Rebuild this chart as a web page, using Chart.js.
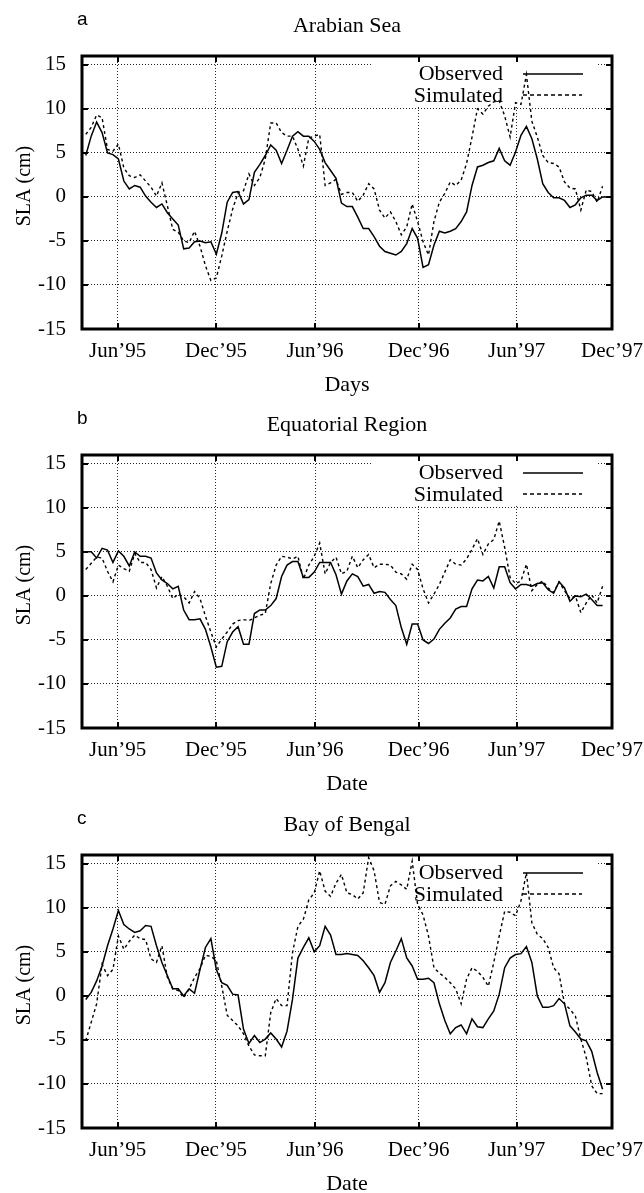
<!DOCTYPE html>
<html>
<head>
<meta charset="utf-8">
<script src="https://cdn.jsdelivr.net/npm/chart.js@4.4.1/dist/chart.umd.min.js"></script>
<style>
  html, body { margin: 0; padding: 0; background: #fff; overflow: hidden; }
  #wrap { position: relative; width: 644px; height: 1193px; }
  canvas { position: absolute; left: 0; }
</style>
</head>
<body>
<div id="wrap">
  <canvas id="panel-a" width="644" height="400" style="top:0px"></canvas>
  <canvas id="panel-b" width="644" height="400" style="top:399px"></canvas>
  <canvas id="panel-c" width="644" height="394" style="top:799px"></canvas>
</div>
<script>
// SLA (cm), one value per altimeter sample (about 10 days apart, starting late Mar 1995)
const arabianObserved = [4.7, 6.9, 8.5, 7.3, 5.0, 4.8, 4.3, 1.8, 0.9, 1.3,
  1.1, 0.1, -0.6, -1.2, -0.8, -1.8, -2.5, -3.2, -5.9, -5.8,
  -5.1, -5.0, -5.2, -5.1, -6.5, -4.1, -0.6, 0.5, 0.6, -0.8,
  -0.3, 2.8, 3.7, 4.7, 5.9, 5.3, 3.8, 5.3, 6.9, 7.4,
  6.9, 6.9, 6.3, 5.4, 3.9, 3.0, 2.1, -0.7, -1.1, -1.1,
  -2.3, -3.6, -3.6, -4.5, -5.6, -6.2, -6.4, -6.6, -6.2, -5.3,
  -3.6, -4.7, -8.0, -7.7, -5.5, -3.9, -4.1, -3.9, -3.6, -2.8,
  -1.7, 1.3, 3.4, 3.6, 3.9, 4.1, 5.5, 4.1, 3.6, 5.1,
  7.0, 8.0, 6.6, 4.3, 1.5, 0.5, -0.1, -0.1, -0.4, -1.2,
  -0.9, -0.1, 0.2, 0.2, -0.4, 0.0, 0.0];
const arabianSimulated = [7.1, 7.9, 9.3, 9.0, 5.4, 5.2, 6.0, 3.3, 2.4, 2.2,
  2.5, 1.8, 1.1, 0.1, 1.6, -1.0, -3.7, -4.0, -5.0, -5.2,
  -3.9, -5.6, -7.8, -9.5, -9.2, -6.7, -3.9, -1.4, 0.5, 0.7,
  2.6, 1.3, 2.2, 4.3, 8.4, 8.4, 7.3, 6.9, 6.9, 5.4,
  3.5, 6.7, 6.9, 7.1, 1.3, 1.6, 2.0, 0.3, 0.5, 0.5,
  -0.5, 0.2, 1.5, 0.9, -1.5, -2.4, -1.7, -2.8, -4.3, -3.4,
  -0.8, -2.8, -5.1, -6.6, -2.8, -0.6, 0.4, 1.7, 1.3, 1.9,
  3.8, 6.8, 10.0, 9.4, 10.3, 10.8, 10.9, 9.2, 6.8, 10.7,
  10.5, 13.9, 8.6, 6.8, 4.7, 3.9, 3.8, 3.4, 1.7, 1.0,
  0.9, -1.5, 0.8, 0.6, -0.6, 1.2, null];

const equatorialObserved = [5.0, 5.0, 4.3, 5.4, 5.2, 3.8, 5.1, 4.5, 3.4, 5.0,
  4.5, 4.5, 4.3, 2.6, 1.8, 1.4, 0.8, 1.1, -1.6, -2.7,
  -2.7, -2.6, -3.8, -5.8, -8.1, -8.0, -5.2, -4.1, -3.5, -5.5,
  -5.5, -2.0, -1.6, -1.6, -1.1, -0.3, 2.2, 3.5, 3.9, 3.9,
  2.1, 2.1, 2.7, 3.8, 3.8, 3.8, 2.4, 0.2, 1.7, 2.5,
  2.2, 1.1, 1.3, 0.3, 0.5, 0.4, -0.4, -1.1, -3.6, -5.5,
  -3.2, -3.2, -5.0, -5.4, -4.9, -3.8, -3.1, -2.5, -1.5, -1.2,
  -1.2, 0.8, 1.8, 1.7, 2.2, 0.9, 3.3, 3.3, 1.5, 0.8,
  1.3, 1.3, 1.1, 1.4, 1.5, 0.7, 0.3, 1.6, 0.9, -0.6,
  0.0, -0.1, 0.2, -0.4, -1.1, -1.1, null];
const equatorialSimulated = [3.0, 3.7, 4.4, 4.3, 2.8, 1.6, 3.5, 3.1, 2.8, 4.8,
  3.8, 3.8, 3.0, 0.9, 2.2, 1.1, -0.3, 0.2, -0.1, -0.8,
  0.5, -0.3, -2.3, -4.1, -5.8, -4.9, -4.1, -3.2, -2.8, -2.7,
  -2.8, -2.5, -2.2, -2.0, 1.4, 3.5, 4.5, 4.4, 4.2, 4.5,
  1.9, 3.5, 4.5, 6.0, 2.5, 3.8, 4.4, 2.5, 2.8, 4.5,
  3.2, 4.1, 4.7, 3.2, 3.6, 3.6, 3.5, 2.7, 2.5, 1.9,
  3.6, 3.0, 0.8, -0.8, 0.2, 1.3, 2.7, 4.1, 3.6, 3.5,
  4.2, 5.3, 6.5, 4.7, 5.9, 6.4, 8.5, 5.5, 2.1, 1.4,
  1.7, 3.6, 0.6, 1.3, 1.7, 0.9, 0.4, 1.6, 0.6, -0.3,
  0.0, -1.9, -0.8, 0.1, -0.8, 1.1, null];

const bengalObserved = [-0.4, 0.4, 1.7, 3.4, 5.7, 7.6, 9.7, 8.1, 7.6, 7.2,
  7.4, 8.0, 7.9, 5.7, 3.8, 2.3, 0.8, 0.8, 0.0, 0.8,
  0.3, 3.0, 5.5, 6.5, 3.0, 1.5, 1.2, 0.2, 0.1, -3.8,
  -5.4, -4.5, -5.3, -4.9, -4.2, -4.9, -5.8, -4.0, -0.4, 4.3,
  5.5, 6.6, 5.0, 5.7, 7.9, 6.9, 4.7, 4.7, 4.8, 4.7,
  4.6, 4.0, 3.2, 2.3, 0.4, 1.5, 3.8, 5.1, 6.5, 4.3,
  3.4, 1.9, 1.9, 2.0, 1.5, -0.9, -2.8, -4.3, -3.6, -3.3,
  -4.3, -2.6, -3.5, -3.6, -2.6, -1.7, 0.2, 3.2, 4.3, 4.7,
  4.8, 5.6, 3.8, 0.0, -1.3, -1.3, -1.1, -0.3, -0.9, -3.4,
  -4.1, -4.9, -5.1, -6.3, -8.7, -10.6, null];
const bengalSimulated = [-5.1, -3.0, -0.9, 3.6, 2.3, 3.0, 6.8, 5.3, 6.2, 6.9,
  6.5, 6.4, 4.2, 3.8, 5.7, 2.1, 0.8, 0.6, -0.2, 0.8,
  2.1, 3.1, 4.6, 4.5, 4.0, 1.1, -2.2, -2.8, -3.4, -4.3,
  -5.7, -6.7, -6.8, -6.8, -1.9, -0.3, -1.1, -1.1, 4.9, 7.9,
  8.7, 10.9, 11.7, 14.2, 11.9, 11.3, 12.8, 13.8, 11.7, 11.5,
  11.0, 11.7, 15.7, 14.2, 10.6, 10.4, 12.5, 13.0, 12.6, 12.1,
  15.3, 10.4, 9.2, 6.8, 3.2, 2.6, 2.1, 1.5, 0.8, -0.9,
  1.9, 3.2, 2.8, 2.1, 1.1, 3.8, 6.8, 9.6, 9.5, 9.1,
  10.8, 14.0, 8.3, 7.0, 6.5, 5.5, 3.2, 2.5, -0.9, -1.5,
  -2.3, -4.9, -7.0, -10.2, -11.1, -11.1, null];

// x axis is in sample units; month ticks sit between samples
const xMin = -0.69;
const xMax = 96.73;
const tickPositions = [5.87, 23.94, 42.14, 61.2, 79.21, 96.73];
const tickLabels = ['Jun\u201995', 'Dec\u201995', 'Jun\u201996', 'Dec\u201996', 'Jun\u201997', 'Dec\u201997'];
const yTicks = [-15, -10, -5, 0, 5, 10, 15];
const seriesNames = ['Observed', 'Simulated'];

const serif = "'Liberation Serif', 'Times New Roman', serif";
Chart.defaults.font.family = serif;
Chart.defaults.color = '#000';

// gnuplot-like frame: opaque key box, thick border, inward tick marks, titles
const framePlugin = {
  id: 'frame',
  beforeDatasetsDraw(chart) {
    const ctx = chart.ctx;
    const top = chart.chartArea.top;
    ctx.save();
    ctx.fillStyle = '#fff';
    ctx.fillRect(371, top + 2, 226, 49);
    ctx.fillStyle = '#000';
    ctx.font = '22px ' + serif;
    ctx.textAlign = 'right';
    ctx.textBaseline = 'alphabetic';
    ctx.fillText(seriesNames[0], 503, 80);
    ctx.fillText(seriesNames[1], 503, 102);
    ctx.strokeStyle = '#000';
    ctx.lineWidth = 1.5;
    ctx.beginPath();
    ctx.moveTo(523, 74);
    ctx.lineTo(583, 74);
    ctx.stroke();
    ctx.setLineDash([4, 3]);
    ctx.beginPath();
    ctx.moveTo(523, 95);
    ctx.lineTo(582, 95);
    ctx.stroke();
    ctx.restore();
  },
  afterDatasetsDraw(chart) {
    const ctx = chart.ctx;
    const a = chart.chartArea;
    const xs = chart.scales.x;
    const ys = chart.scales.y;
    ctx.save();
    ctx.strokeStyle = '#000';
    ctx.lineWidth = 2;
    ctx.beginPath();
    tickPositions.forEach(v => {
      const px = Math.round(xs.getPixelForValue(v));
      if (px >= a.right - 2) return;
      ctx.moveTo(px, a.bottom);
      ctx.lineTo(px, a.bottom - 6);
      ctx.moveTo(px, a.top);
      ctx.lineTo(px, a.top + 6);
    });
    yTicks.forEach(v => {
      const py = Math.round(ys.getPixelForValue(v));
      if (py >= a.bottom - 2) return;
      ctx.moveTo(a.left, py);
      ctx.lineTo(a.left + 6, py);
      ctx.moveTo(a.right, py);
      ctx.lineTo(a.right - 6, py);
    });
    ctx.stroke();
    ctx.lineWidth = 3;
    ctx.strokeRect(a.left, a.top, a.right - a.left, a.bottom - a.top);
    ctx.restore();
  },
  afterDraw(chart, args, opts) {
    const ctx = chart.ctx;
    const a = chart.chartArea;
    ctx.save();
    ctx.fillStyle = '#000';
    ctx.textBaseline = 'alphabetic';
    ctx.font = "19px 'Liberation Sans', 'DejaVu Sans', sans-serif";
    ctx.textAlign = 'left';
    ctx.fillText(opts.letter, 77, 25);
    ctx.font = '22px ' + serif;
    ctx.textAlign = 'center';
    ctx.fillText(opts.title, (a.left + a.right) / 2, 32);
    ctx.fillText(opts.xTitle, (a.left + a.right) / 2, 391);
    ctx.translate(25, 186);
    ctx.rotate(-Math.PI / 2);
    ctx.font = '20px ' + serif;
    ctx.textBaseline = 'middle';
    ctx.fillText('SLA (cm)', 0, 0);
    ctx.restore();
  }
};

function makePanel(canvasId, letter, title, xTitle, observed, simulated) {
  const samples = observed.map((_, i) => i);
  const gridOpts = { color: 'rgba(0,0,0,0.85)', lineWidth: 1, drawTicks: false };
  const borderOpts = { display: false, dash: [1, 2] };
  return new Chart(document.getElementById(canvasId), {
    type: 'line',
    data: {
      labels: samples,
      datasets: [{
        label: seriesNames[0],
        data: observed,
        borderColor: '#000',
        borderWidth: 1.5,
        pointRadius: 0,
        tension: 0
      }, {
        label: seriesNames[1],
        data: simulated,
        borderColor: '#000',
        borderWidth: 1.4,
        borderDash: [3, 3],
        pointRadius: 0,
        tension: 0
      }]
    },
    options: {
      responsive: false,
      animation: false,
      devicePixelRatio: 1,
      layout: { padding: { top: 56, right: 32, left: 0, bottom: 0 } },
      plugins: {
        legend: { display: false },
        tooltip: { enabled: false },
        frame: { letter: letter, title: title, xTitle: xTitle }
      },
      scales: {
        x: {
          type: 'linear',
          min: xMin,
          max: xMax,
          afterBuildTicks: s => { s.ticks = tickPositions.map(v => ({ value: v })); },
          afterFit: s => {
            s.height = s.chart.height - 329;
            s.paddingLeft = 0;
            s.paddingRight = 0;
          },
          ticks: {
            autoSkip: false,
            maxRotation: 0,
            padding: 10,
            font: { size: 21 },
            color: '#000',
            callback: (value, index) => tickLabels[index]
          },
          grid: gridOpts,
          border: borderOpts
        },
        y: {
          min: -15,
          max: 16,
          afterBuildTicks: s => { s.ticks = yTicks.map(v => ({ value: v })); },
          afterFit: s => {
            s.width = 82;
            s.paddingTop = 0;
            s.paddingBottom = 0;
          },
          ticks: { padding: 16, font: { size: 21 }, color: '#000' },
          grid: gridOpts,
          border: borderOpts
        }
      }
    },
    plugins: [framePlugin]
  });
}

makePanel('panel-a', 'a', 'Arabian Sea', 'Days', arabianObserved, arabianSimulated);
makePanel('panel-b', 'b', 'Equatorial Region', 'Date', equatorialObserved, equatorialSimulated);
makePanel('panel-c', 'c', 'Bay of Bengal', 'Date', bengalObserved, bengalSimulated);
</script>
</body>
</html>
